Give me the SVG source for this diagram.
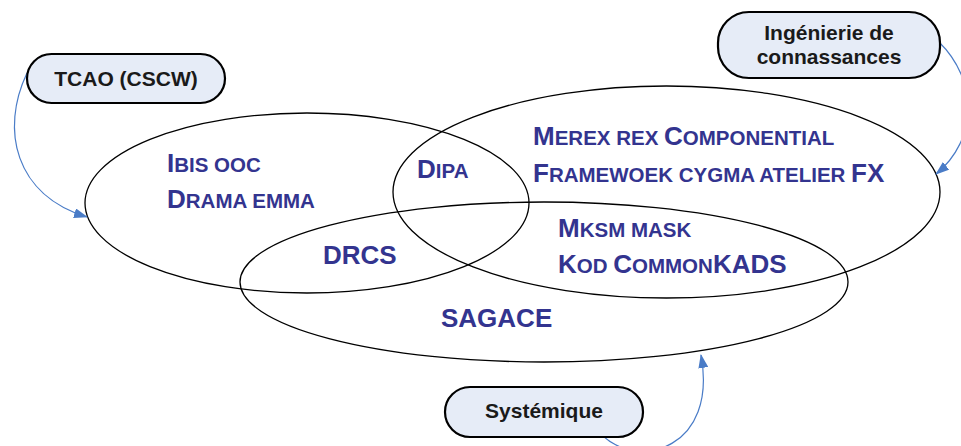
<svg xmlns="http://www.w3.org/2000/svg" width="961" height="446" viewBox="0 0 961 446">
<style>
.ell{fill:none;stroke:#000;stroke-width:1.3}
.box{fill:#E6ECF7;stroke:#000;stroke-width:2.2}
.bt{font-family:"Liberation Sans",Arial,sans-serif;font-weight:bold;font-size:21px;fill:#1a1a1a;text-anchor:middle}
.lt{font-family:"Liberation Sans",Arial,sans-serif;font-weight:bold;fill:#33348F}
.b{font-size:26px}
.s{font-size:20.5px}
.con{fill:none;stroke:#4A7CC7;stroke-width:1.2}
</style>
<defs>
<marker id="arr" viewBox="0 0 14 10" refX="13" refY="5" markerWidth="14" markerHeight="10" markerUnits="userSpaceOnUse" orient="auto">
<path d="M0,0 L14,5 L0,10 Z" fill="#4A7CC7"/>
</marker>
</defs>
<g id="ellipses">
<ellipse id="set-tcao" class="ell" cx="307" cy="203" rx="222" ry="90"/>
<ellipse id="set-ing" class="ell" cx="666.5" cy="192" rx="273.5" ry="106"/>
<ellipse id="set-sys" class="ell" cx="544" cy="282" rx="304" ry="80"/>
</g>
<g id="connectors">
<path class="con" d="M27,73 C0,130 15,195 87,217" marker-end="url(#arr)"/>
<path class="con" d="M939,42 C978,80 978,140 936,174" marker-end="url(#arr)"/>
<path class="con" d="M603,436 C640,470 718,448 701,355" marker-end="url(#arr)"/>
</g>
<g id="node-tcao">
<rect class="box" x="27" y="54" width="198" height="49" rx="24.5"/>
<text class="bt" x="126" y="86">TCAO (CSCW)</text>
</g>
<g id="node-ing">
<rect class="box" x="718" y="12" width="222" height="66" rx="31"/>
<text class="bt" x="829" y="40">Ingénierie de</text>
<text class="bt" x="829" y="64">connassances</text>
</g>
<g id="node-sys">
<rect class="box" x="445" y="387" width="198" height="50" rx="25"/>
<text class="bt" x="544" y="418">Systémique</text>
</g>
<g id="labels">
<text class="lt" x="167" y="172"><tspan class="b">I</tspan><tspan class="s">BIS OOC</tspan></text>
<text class="lt" x="167" y="208"><tspan class="b">D</tspan><tspan class="s">RAMA EMMA</tspan></text>
<text class="lt" x="417" y="178"><tspan class="b">D</tspan><tspan class="s">IPA</tspan></text>
<text class="lt" x="533" y="145"><tspan class="b">M</tspan><tspan class="s">EREX REX </tspan><tspan class="b">C</tspan><tspan class="s">OMPONENTIAL</tspan></text>
<text class="lt" x="533" y="182"><tspan class="b">F</tspan><tspan class="s">RAMEWOEK CYGMA ATELIER </tspan><tspan class="b">FX</tspan></text>
<text class="lt" x="558" y="237"><tspan class="b">M</tspan><tspan class="s">KSM MASK</tspan></text>
<text class="lt" x="558" y="273"><tspan class="b">K</tspan><tspan class="s">OD </tspan><tspan class="b">C</tspan><tspan class="s">OMMON</tspan><tspan class="b">KADS</tspan></text>
<text class="lt b" x="323" y="264">DRCS</text>
<text class="lt b" x="441" y="327">SAGACE</text>
</g>
</svg>
